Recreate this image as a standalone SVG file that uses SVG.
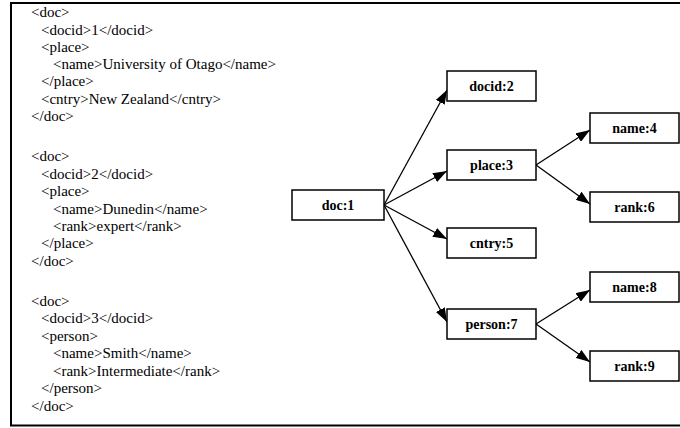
<svg xmlns="http://www.w3.org/2000/svg" width="680" height="428" viewBox="0 0 680 428">
  <style>
    .frame { fill: #fff; stroke: #000; stroke-width: 2; }
    .xml { font-family: 'Liberation Serif', 'Times New Roman', Times, serif; font-size: 15px; fill: #000; }
    .box { fill: #fff; stroke: #000; stroke-width: 1.5; }
    .lbl { font-family: 'Liberation Serif', 'Times New Roman', Times, serif; font-size: 14px; font-weight: bold; fill: #000; text-anchor: middle; }
    .edge { stroke: #000; stroke-width: 1.3; fill: none; marker-end: url(#head); }
  </style>
  <defs>
    <marker id="head" markerUnits="userSpaceOnUse" markerWidth="14" markerHeight="10" refX="14" refY="5" orient="auto">
      <path d="M0,0 L14,5 L0,10 z" fill="#000"/>
    </marker>
  </defs>

  <rect class="frame" x="11" y="3" width="680" height="422.5"/>

  <!-- XML source listing -->
  <g id="xml-source" class="xml">
    <text x="31" y="17">&lt;doc&gt;</text>
    <text x="41" y="35">&lt;docid&gt;1&lt;/docid&gt;</text>
    <text x="41" y="52">&lt;place&gt;</text>
    <text x="53" y="69">&lt;name&gt;University of Otago&lt;/name&gt;</text>
    <text x="41" y="86">&lt;/place&gt;</text>
    <text x="41" y="104">&lt;cntry&gt;New Zealand&lt;/cntry&gt;</text>
    <text x="31" y="121">&lt;/doc&gt;</text>

    <text x="31" y="161">&lt;doc&gt;</text>
    <text x="41" y="179">&lt;docid&gt;2&lt;/docid&gt;</text>
    <text x="41" y="196">&lt;place&gt;</text>
    <text x="53" y="214">&lt;name&gt;Dunedin&lt;/name&gt;</text>
    <text x="53" y="231">&lt;rank&gt;expert&lt;/rank&gt;</text>
    <text x="41" y="248">&lt;/place&gt;</text>
    <text x="31" y="266">&lt;/doc&gt;</text>

    <text x="31" y="306">&lt;doc&gt;</text>
    <text x="41" y="323">&lt;docid&gt;3&lt;/docid&gt;</text>
    <text x="41" y="341">&lt;person&gt;</text>
    <text x="53" y="358">&lt;name&gt;Smith&lt;/name&gt;</text>
    <text x="53" y="376">&lt;rank&gt;Intermediate&lt;/rank&gt;</text>
    <text x="41" y="393">&lt;/person&gt;</text>
    <text x="31" y="411">&lt;/doc&gt;</text>
  </g>

  <!-- tree edges -->
  <g id="edges">
    <line class="edge" x1="384" y1="205" x2="447" y2="90"/>
    <line class="edge" x1="384" y1="205" x2="447" y2="171"/>
    <line class="edge" x1="384" y1="205" x2="447" y2="239"/>
    <line class="edge" x1="384" y1="205" x2="447" y2="322"/>
    <line class="edge" x1="536" y1="165" x2="590" y2="130"/>
    <line class="edge" x1="536" y1="165" x2="590" y2="204"/>
    <line class="edge" x1="536" y1="324" x2="590" y2="290"/>
    <line class="edge" x1="536" y1="324" x2="590" y2="362"/>
  </g>

  <!-- tree nodes -->
  <g id="doc1"><rect class="box" x="292" y="190" width="92" height="30"/><text class="lbl" x="338" y="210">doc:1</text></g>
  <g id="docid2"><rect class="box" x="447" y="71" width="89" height="30"/><text class="lbl" x="491.5" y="91">docid:2</text></g>
  <g id="place3"><rect class="box" x="447" y="150" width="89" height="30"/><text class="lbl" x="491.5" y="170">place:3</text></g>
  <g id="cntry5"><rect class="box" x="447" y="228" width="89" height="30"/><text class="lbl" x="491.5" y="248">cntry:5</text></g>
  <g id="person7"><rect class="box" x="447" y="309" width="89" height="30"/><text class="lbl" x="491.5" y="329">person:7</text></g>
  <g id="name4"><rect class="box" x="590" y="113" width="89" height="30"/><text class="lbl" x="634.5" y="133">name:4</text></g>
  <g id="rank6"><rect class="box" x="590" y="192" width="89" height="30"/><text class="lbl" x="634.5" y="212">rank:6</text></g>
  <g id="name8"><rect class="box" x="590" y="272" width="89" height="30"/><text class="lbl" x="634.5" y="292">name:8</text></g>
  <g id="rank9"><rect class="box" x="590" y="351" width="89" height="30"/><text class="lbl" x="634.5" y="371">rank:9</text></g>
</svg>
